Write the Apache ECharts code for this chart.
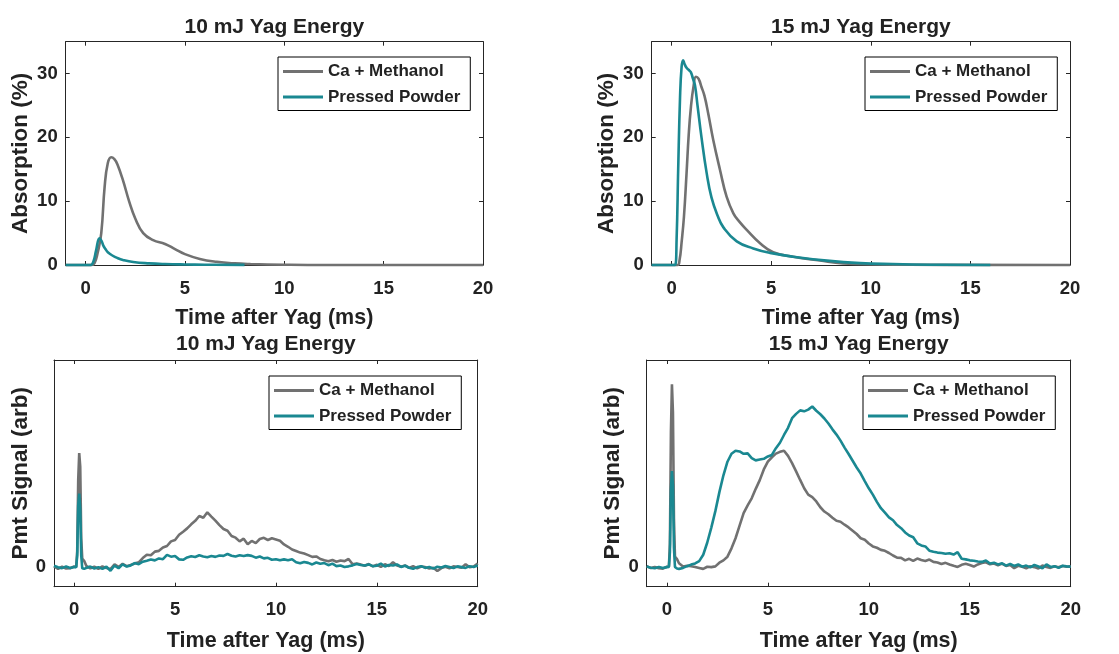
<!DOCTYPE html>
<html>
<head>
<meta charset="utf-8">
<script src="https://cdn.jsdelivr.net/npm/echarts@6/dist/echarts.min.js"></script>
<style>
html,body{margin:0;padding:0;background:#fff;}
#main{width:1119px;height:654px;}
</style>
</head>
<body>
<div id="main"></div>
<script>
// ---------- DATA ----------
var titles = ['10 mJ Yag Energy', '15 mJ Yag Energy', '10 mJ Yag Energy', '15 mJ Yag Energy'];
var seriesNames = ['Ca + Methanol', 'Pressed Powder'];
var xTicks = [0, 5, 10, 15, 20];
var absTicks = [0, 10, 20, 30];
var pmtTicks = [0];

// Top-left: absorption, 10 mJ
var tA10Ca = [-1, 0.3, 0.45, 0.6, 0.79, 0.96, 1.12, 1.29, 1.45, 1.6, 1.88, 2.2, 2.5, 2.9, 3.4, 4.0, 4.5, 5.0, 5.75, 6.6, 7.5, 8.3, 10, 12, 20];
var yA10Ca = [0, 0, 0.3, 1.8, 5, 12.3, 16, 16.9, 16.6, 15.8, 13.3, 9.9, 7.3, 5.0, 3.9, 3.3, 2.5, 1.7, 0.95, 0.5, 0.25, 0.15, 0.05, 0, 0];
var tA10PP = [-1, 0.25, 0.4, 0.53, 0.7, 0.8, 0.9, 1.0, 1.12, 1.37, 1.6, 1.88, 2.4, 3.2, 4.0, 5.0, 6.0, 8.0];
var yA10PP = [0, 0, 0.6, 2.3, 4.2, 3.8, 3.0, 2.5, 2.0, 1.45, 1.1, 0.8, 0.47, 0.26, 0.15, 0.08, 0.04, 0.02];

// Top-right: absorption, 15 mJ
var tA15Ca = [-1, 0.3, 0.4, 0.5, 0.62, 0.75, 0.86, 0.97, 1.1, 1.22, 1.35, 1.5, 1.65, 1.84, 2.09, 2.43, 2.76, 3.1, 3.4, 3.77, 4.44, 5.1, 6.1, 7.45, 8.6, 10.3, 12, 20];
var yA15Ca = [0, 0, 0.8, 3.5, 7.6, 14.4, 20.5, 24.8, 28, 29.5, 29.2, 27.9, 26.5, 23.7, 19.6, 14.9, 10.7, 8.1, 6.8, 5.5, 3.4, 2.0, 1.3, 0.7, 0.26, 0.1, 0.03, 0];
var tA15PP = [-1, 0.17, 0.25, 0.33, 0.42, 0.5, 0.58, 0.65, 0.75, 0.85, 0.97, 1.07, 1.17, 1.3, 1.5, 1.76, 2.0, 2.3, 2.6, 3.27, 4.1, 4.94, 6.1, 7.8, 9.46, 11.1, 13, 16];
var yA15PP = [0, 0, 4, 15, 26, 31, 32.1, 31.5, 30.9, 30.6, 30.2, 29.2, 28.2, 25, 20, 14.4, 10.6, 7.8, 5.9, 3.7, 2.6, 1.9, 1.3, 0.68, 0.3, 0.15, 0.05, 0];

// Bottom plots: PMT signal (arb), shared time base
var tPmt = [-1,-0.8,-0.6,-0.4,-0.2,0,0.1,0.15,0.2,0.25,0.3,0.35,0.4,0.5,
  0.6,0.8,1,1.2,1.4,1.6,1.8,2,2.2,2.4,2.6,2.8,3,3.2,3.4,3.6,3.8,4,4.2,4.4,
  4.6,4.8,5,5.2,5.4,5.6,5.8,6,6.2,6.4,6.6,6.8,7,7.2,7.4,7.6,7.8,8,8.2,8.4,
  8.6,8.8,9,9.2,9.4,9.6,9.8,10,10.2,10.4,10.6,10.8,11,11.2,11.4,11.6,11.8,12,12.2,12.4,
  12.6,12.8,13,13.2,13.4,13.6,13.8,14,14.2,14.4,14.6,14.8,15,15.2,15.4,15.6,15.8,16,16.2,16.4,
  16.6,16.8,17,17.2,17.4,17.6,17.8,18,18.2,18.4,18.6,18.8,19,19.2,19.4,19.6,19.8,20];

var yP10Ca = [0.5,-0.8,0.3,-0.6,-0.5,0.4,0.2,8,45,59,52,15,4.5,3.2,
  0.8,-0.5,0.3,-0.8,0.5,-0.4,-0.9,1.5,0.2,1.8,0.6,1.2,2.0,2.6,4.8,6.5,6.2,8.1,8.5,10.2,
  11,13.4,14.1,16.8,18.4,20.1,22.2,24,26.5,25.6,28.4,26.2,24.1,21.8,19.8,18.9,16.2,15.3,13.4,14.8,
  11.9,13.6,12.5,14.6,15.2,14.1,15.0,14.4,13.7,11.8,10.6,9.2,8.4,7.6,7.1,6.3,5.4,5.6,4.3,3.6,
  3.1,3.8,2.9,3.5,3.2,4.3,1.6,2.0,1.4,0.8,1.7,0.5,1.3,0.2,1.6,0.7,2.6,0.9,0.3,1.0,
  -0.3,0.6,-0.5,0.4,0.1,-0.6,-0.2,-1.9,-0.4,0.3,-0.5,0.5,0.2,-0.2,1.6,0.0,0.4,2.0];
var yP10PP = [0.8,0.0,-0.4,0.4,-0.3,0.2,0.0,6,32,38,30,6,-0.5,-0.8,
  -0.3,0.4,-0.6,0.1,-0.8,0.3,-1.8,0.9,-0.5,1.5,0.4,1.0,2.2,1.6,2.9,3.4,4.0,3.6,4.6,4.2,
  6.4,5.5,5.8,4.1,3.9,5.1,5.7,5.3,6.2,5.6,5.2,5.8,5.4,6.1,5.9,6.9,6.0,5.6,6.2,5.8,
  6.3,5.9,5.0,5.6,4.6,4.9,3.9,4.2,3.6,4.1,3.7,4.2,2.6,2.1,2.8,2.3,1.5,2.5,1.8,2.2,
  1.1,1.9,0.6,0.9,0.2,0.5,1.0,1.7,1.2,0.9,1.5,0.6,0.8,1.9,0.4,1.2,0.9,1.5,0.2,0.8,
  -0.2,-0.8,0.1,0.6,-0.3,0.2,-0.7,0.3,-0.1,0.7,0.2,-0.4,0.5,0.1,-0.3,0.6,0.2,0.9];
var yP15Ca = [0.6,-0.4,0.2,-0.5,-0.7,0.3,0.5,12,70,94.5,80,25,5.5,4.2,
  2.1,0.4,0.8,0.6,0.2,-0.3,-0.8,0.3,0.1,0.5,2.4,3.6,5.5,9.8,15.0,21.5,28.0,32.0,35.6,40.5,
  45.0,50.5,54.5,56.8,58.7,59.6,60.2,57.5,53.8,49.5,45.1,40.8,37.5,36.2,34.0,31.0,28.8,27.4,25.6,24.0,
  23.5,22.0,20.6,18.9,17.2,15.0,14.2,12.3,10.8,10.1,9.0,8.5,7.4,6.1,5.0,4.9,3.6,4.4,3.3,4.5,
  3.8,3.3,4.0,2.8,2.5,1.7,2.3,1.5,0.8,0.2,1.3,1.8,1.2,0.4,1.5,2.2,2.6,1.6,2.0,1.1,
  1.9,0.7,1.2,-0.4,0.8,0.3,-0.5,0.6,0.1,-0.6,0.9,0.2,-0.3,0.5,0.0,0.7,0.3,0.5];
var yP15PP = [0.4,-0.2,-0.5,0.2,-0.4,0.1,0.2,8,40,49.7,42,10,0.2,-0.6,
  -0.8,-0.3,0.6,1.4,2.0,3.2,6.5,12.8,20.5,29.0,38.8,47.5,54.5,58.6,60.2,59.8,58.6,58.8,56.4,55.2,
  55.6,56.0,57.2,58.0,61.5,64.3,68.3,72.0,77.0,79.2,81.0,80.5,81.4,83.0,80.8,79.0,76.8,74.2,71.2,68.5,
  65.4,61.8,58.5,55.0,51.5,48.4,44.5,40.8,37.5,33.8,30.5,28.2,25.8,24.3,21.8,20.2,18.0,16.4,15.5,12.4,
  11.3,10.8,8.6,8.0,7.6,7.4,7.0,7.3,6.6,7.8,4.4,4.1,3.6,3.4,3.0,2.8,3.5,2.0,2.4,1.5,
  2.1,0.9,1.8,0.7,1.5,0.3,0.9,0.0,1.2,0.4,-0.5,1.5,0.2,0.6,-0.3,0.8,0.5,0.3];

// ---------- STYLE / LAYOUT ----------
var FONT = 'Liberation Sans, Arial, sans-serif';
var TXT = '#222222';
var AX = '#262626';
var GRAY = '#717171';
var TEAL = '#1a8891';

var grids = [
  {left: 65.7, top: 41.7, width: 417.3, height: 223.3},
  {left: 651.7, top: 41.7, width: 418.3, height: 223.3},
  {left: 54, top: 360, width: 423.7, height: 226.7},
  {left: 646.7, top: 360, width: 424, height: 226.7}
];
var yNames = ['Absorption (%)', 'Absorption (%)', 'Pmt Signal (arb)', 'Pmt Signal (arb)'];
var yNameGaps = [33, 33, 20, 22];
var titleTops = [16.5, 16.5, 333.5, 333.5];
var xNameGaps = [42, 42, 43, 43];
var xLabelMargins = [14.5, 14.5, 14, 14];
var legendPos = [[278, 57], [865, 57], [269, 376], [863, 376]];

function pairs(t, y) { return t.map(function (x, i) { return [x, y[i]]; }); }

var dataSets = [
  [pairs(tA10Ca, yA10Ca), pairs(tA10PP, yA10PP)],
  [pairs(tA15Ca, yA15Ca), pairs(tA15PP, yA15PP)],
  [pairs(tPmt, yP10Ca), pairs(tPmt, yP10PP)],
  [pairs(tPmt, yP15Ca), pairs(tPmt, yP15PP)]
];

var option = {
  backgroundColor: '#ffffff',
  animation: false,
  title: [], grid: [], xAxis: [], yAxis: [], legend: [], series: []
};

for (var g = 0; g < 4; g++) {
  var gr = grids[g];
  option.grid.push({left: gr.left, top: gr.top, width: gr.width, height: gr.height,
    containLabel: false, outerBoundsMode: 'none', show: false});
  option.title.push({
    text: titles[g], left: gr.left + gr.width / 2, top: titleTops[g], textAlign: 'center', padding: 0,
    textStyle: {fontFamily: FONT, fontSize: 21, fontWeight: 'bold', color: TXT}
  });
  var isAbs = g < 2;
  var yTicks = isAbs ? absTicks : pmtTicks;
  var yMin = isAbs ? 0 : -10, yMax = isAbs ? 35 : 107;
  var tickLen = 4;
  option.xAxis.push({
    type: 'value', gridIndex: g, position: 'bottom', min: -1, max: 20,
    name: 'Time after Yag (ms)', nameLocation: 'middle', nameGap: xNameGaps[g],
    nameTextStyle: {fontFamily: FONT, fontSize: 21.5, fontWeight: 'bold', color: TXT},
    axisLine: {show: true, onZero: false, lineStyle: {color: AX, width: 1}},
    axisTick: {show: true, inside: true, length: tickLen, customValues: xTicks, lineStyle: {color: AX, width: 1}},
    axisLabel: {show: true, customValues: xTicks, margin: xLabelMargins[g], fontFamily: FONT, fontSize: 18.5, fontWeight: 'bold', color: TXT},
    splitLine: {show: false}
  });
  option.xAxis.push({
    type: 'value', gridIndex: g, position: 'top', min: -1, max: 20,
    axisLine: {show: true, onZero: false, lineStyle: {color: AX, width: 1}},
    axisTick: {show: true, inside: true, length: tickLen, customValues: xTicks, lineStyle: {color: AX, width: 1}},
    axisLabel: {show: false}, splitLine: {show: false}
  });
  option.yAxis.push({
    type: 'value', gridIndex: g, position: 'left', min: yMin, max: yMax,
    name: yNames[g], nameLocation: 'middle', nameGap: yNameGaps[g], nameRotate: 90,
    nameTextStyle: {fontFamily: FONT, fontSize: 22.5, fontWeight: 'bold', color: TXT},
    axisLine: {show: true, onZero: false, lineStyle: {color: AX, width: 1}},
    axisTick: {show: true, inside: true, length: tickLen, customValues: yTicks, lineStyle: {color: AX, width: 1}},
    axisLabel: {show: true, customValues: yTicks, margin: 8, fontFamily: FONT, fontSize: 18.5, fontWeight: 'bold', color: TXT},
    splitLine: {show: false}
  });
  option.yAxis.push({
    type: 'value', gridIndex: g, position: 'right', min: yMin, max: yMax,
    axisLine: {show: true, onZero: false, lineStyle: {color: AX, width: 1}},
    axisTick: {show: isAbs, inside: true, length: tickLen, customValues: yTicks, lineStyle: {color: AX, width: 1}},
    axisLabel: {show: false}, splitLine: {show: false}
  });
  option.legend.push({
    orient: 'vertical', left: legendPos[g][0], top: legendPos[g][1],
    data: seriesNames, icon: 'rect', itemWidth: 40, itemHeight: 3, itemGap: 8.5,
    padding: [6, 10, 5, 5], borderColor: '#000', borderWidth: 1, backgroundColor: '#fff',
    selectedMode: false,
    textStyle: {fontFamily: FONT, fontSize: 17, fontWeight: 'bold', color: TXT}
  });
  for (var s = 0; s < 2; s++) {
    var col = s === 0 ? GRAY : TEAL;
    option.series.push({
      type: 'line', name: seriesNames[s], xAxisIndex: 2 * g, yAxisIndex: 2 * g,
      data: dataSets[g][s], showSymbol: false, symbol: 'none', clip: false,
      smooth: isAbs ? 0.45 : false,
      lineStyle: {color: col, width: 2.6}, itemStyle: {color: col},
      z: 2 + s
    });
  }
}

var chart = echarts.init(document.getElementById('main'), null, {renderer: 'canvas'});
chart.setOption(option);
</script>
</body>
</html>
